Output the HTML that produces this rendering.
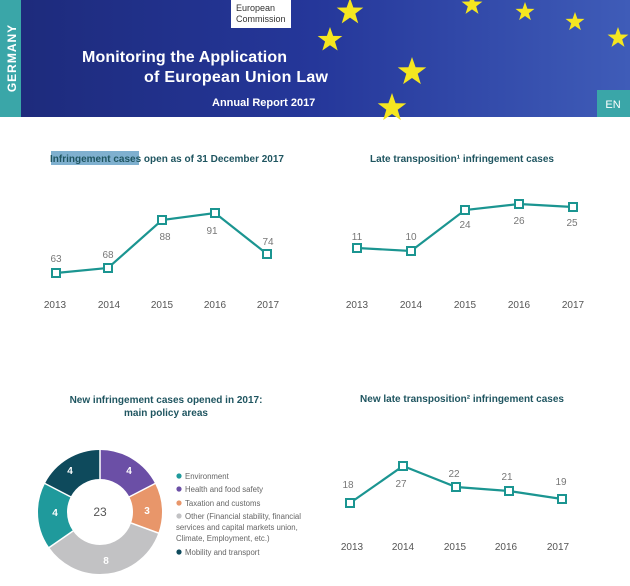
<!DOCTYPE html>
<html><head><meta charset="utf-8"><style>
body{margin:0;width:630px;height:586px;overflow:hidden;background:#fff;font-family:"Liberation Sans","DejaVu Sans",sans-serif}
</style></head><body>
<svg width="630" height="586" xmlns="http://www.w3.org/2000/svg" style="position:absolute;left:0;top:0">
<defs>
<linearGradient id="bg" x1="0" y1="0" x2="1" y2="0">
<stop offset="0" stop-color="#1d2a7a"/><stop offset="0.5" stop-color="#25379a"/><stop offset="1" stop-color="#3f5cb8"/>
</linearGradient>
<polygon id="st" points="0,-10 2.4,-3.2 9.5,-3.1 3.8,1.2 5.9,8.1 0,4 -5.9,8.1 -3.8,1.2 -9.5,-3.1 -2.4,-3.2"/>
</defs>
<rect x="0" y="0" width="630" height="117" fill="url(#bg)"/>
<rect x="0" y="0" width="21" height="117" fill="#3aa6a8"/>
<text transform="translate(16,58) rotate(-90)" text-anchor="middle" font-size="12" font-weight="bold" fill="#fff" letter-spacing="1">GERMANY</text>
<rect x="231" y="0" width="60" height="28" fill="#fff"/>
<text x="236" y="11" font-size="9" fill="#333">European</text>
<text x="236" y="22" font-size="9" fill="#333">Commission</text>
<text x="82" y="62" font-size="16" font-weight="bold" fill="#fff" textLength="205">Monitoring the Application</text>
<text x="144" y="82" font-size="16" font-weight="bold" fill="#fff" textLength="184">of European Union Law</text>
<text x="212" y="106" font-size="11" font-weight="bold" fill="#fff">Annual Report 2017</text>
<g fill="#f5e620">
<use href="#st" transform="translate(350,12) scale(1.4)"/>
<use href="#st" transform="translate(330,40) scale(1.3)"/>
<use href="#st" transform="translate(412,72) scale(1.5)"/>
<use href="#st" transform="translate(392,108) scale(1.5)"/>
<use href="#st" transform="translate(472,5) scale(1.1)"/>
<use href="#st" transform="translate(525,12) scale(1)"/>
<use href="#st" transform="translate(575,22) scale(1)"/>
<use href="#st" transform="translate(618,38) scale(1.1)"/>
</g>
<rect x="597" y="90" width="33" height="27" fill="#3aa6a8"/>
<text x="613" y="108" text-anchor="middle" font-size="11" fill="#fff">EN</text>

<g font-size="10" font-weight="bold" fill="#1f5560" text-anchor="middle">
<rect x="51" y="151" width="88" height="14" fill="#7fb0cf"/>
<text x="167" y="162">Infringement cases open as of 31 December 2017</text>
<text x="462" y="162">Late transposition¹ infringement cases</text>
<text x="166" y="403">New infringement cases opened in 2017:</text>
<text x="166" y="416">main policy areas</text>
<text x="462" y="402">New late transposition² infringement cases</text>
</g>

<g fill="none" stroke="#1b9591" stroke-width="2.2">
<polyline points="56,273 108,268 162,220 215,213 267,254"/>
<polyline points="357,248 411,251 465,210 519,204 573,207"/>
<polyline points="350,503 403,466 456,487 509,491 562,499"/>
</g>
<g fill="#fff" stroke="#1b9591" stroke-width="2">
<rect x="52" y="269" width="8" height="8"/><rect x="104" y="264" width="8" height="8"/><rect x="158" y="216" width="8" height="8"/><rect x="211" y="209" width="8" height="8"/><rect x="263" y="250" width="8" height="8"/>
<rect x="353" y="244" width="8" height="8"/><rect x="407" y="247" width="8" height="8"/><rect x="461" y="206" width="8" height="8"/><rect x="515" y="200" width="8" height="8"/><rect x="569" y="203" width="8" height="8"/>
<rect x="346" y="499" width="8" height="8"/><rect x="399" y="462" width="8" height="8"/><rect x="452" y="483" width="8" height="8"/><rect x="505" y="487" width="8" height="8"/><rect x="558" y="495" width="8" height="8"/>
</g>
<g font-size="10" fill="#777" text-anchor="middle">
<text x="56" y="262">63</text><text x="108" y="258">68</text><text x="165" y="240">88</text><text x="212" y="234">91</text><text x="268" y="245">74</text>
<text x="357" y="240">11</text><text x="411" y="240">10</text><text x="465" y="228">24</text><text x="519" y="224">26</text><text x="572" y="226">25</text>
<text x="348" y="488">18</text><text x="401" y="487">27</text><text x="454" y="477">22</text><text x="507" y="480">21</text><text x="561" y="485">19</text>
</g>
<g font-size="10" fill="#555" text-anchor="middle">
<text x="55" y="308">2013</text><text x="109" y="308">2014</text><text x="162" y="308">2015</text><text x="215" y="308">2016</text><text x="268" y="308">2017</text>
<text x="357" y="308">2013</text><text x="411" y="308">2014</text><text x="465" y="308">2015</text><text x="519" y="308">2016</text><text x="573" y="308">2017</text>
<text x="352" y="550">2013</text><text x="403" y="550">2014</text><text x="455" y="550">2015</text><text x="506" y="550">2016</text><text x="558" y="550">2017</text>
</g>

<g transform="translate(100,512) rotate(-90)" fill="none" stroke-width="29">
<circle r="47.5" stroke="#6b4fa6" stroke-dasharray="51.9 246.55" stroke-dashoffset="0"/>
<circle r="47.5" stroke="#e8966a" stroke-dasharray="38.93 259.52" stroke-dashoffset="-51.9"/>
<circle r="47.5" stroke="#c2c2c4" stroke-dasharray="103.8 194.65" stroke-dashoffset="-90.83"/>
<circle r="47.5" stroke="#1f9a9c" stroke-dasharray="51.9 246.55" stroke-dashoffset="-194.63"/>
<circle r="47.5" stroke="#0e4a5c" stroke-dasharray="51.9 246.55" stroke-dashoffset="-246.53"/>
</g>
<g stroke="#fff" stroke-width="1.5">
<line x1="100" y1="479" x2="100" y2="447"/>
<line x1="129" y1="497" x2="158" y2="482"/>
<line x1="131" y1="523" x2="161" y2="534"/>
<line x1="73" y1="531" x2="47" y2="549"/>
<line x1="71" y1="497" x2="42" y2="482"/>
</g>
<text x="100" y="516" text-anchor="middle" font-size="12" fill="#555">23</text>
<g font-size="10" font-weight="bold" fill="#fff" text-anchor="middle">
<text x="129" y="474">4</text><text x="147" y="514">3</text><text x="106" y="564">8</text><text x="55" y="516">4</text><text x="70" y="474">4</text>
</g>
<g font-size="7.8" fill="#666">
<circle cx="179" cy="476" r="2.6" fill="#1f9a9c"/><text x="185" y="479">Environment</text>
<circle cx="179" cy="489" r="2.6" fill="#6b4fa6"/><text x="185" y="492">Health and food safety</text>
<circle cx="179" cy="503" r="2.6" fill="#e8966a"/><text x="185" y="506">Taxation and customs</text>
<circle cx="179" cy="516" r="2.6" fill="#c2c2c4"/><text x="185" y="519">Other (Financial stability, financial</text>
<text x="176" y="530">services and capital markets union,</text>
<text x="176" y="541">Climate, Employment, etc.)</text>
<circle cx="179" cy="552" r="2.6" fill="#0e4a5c"/><text x="185" y="555">Mobility and transport</text>
</g>
</svg>
</body></html>
